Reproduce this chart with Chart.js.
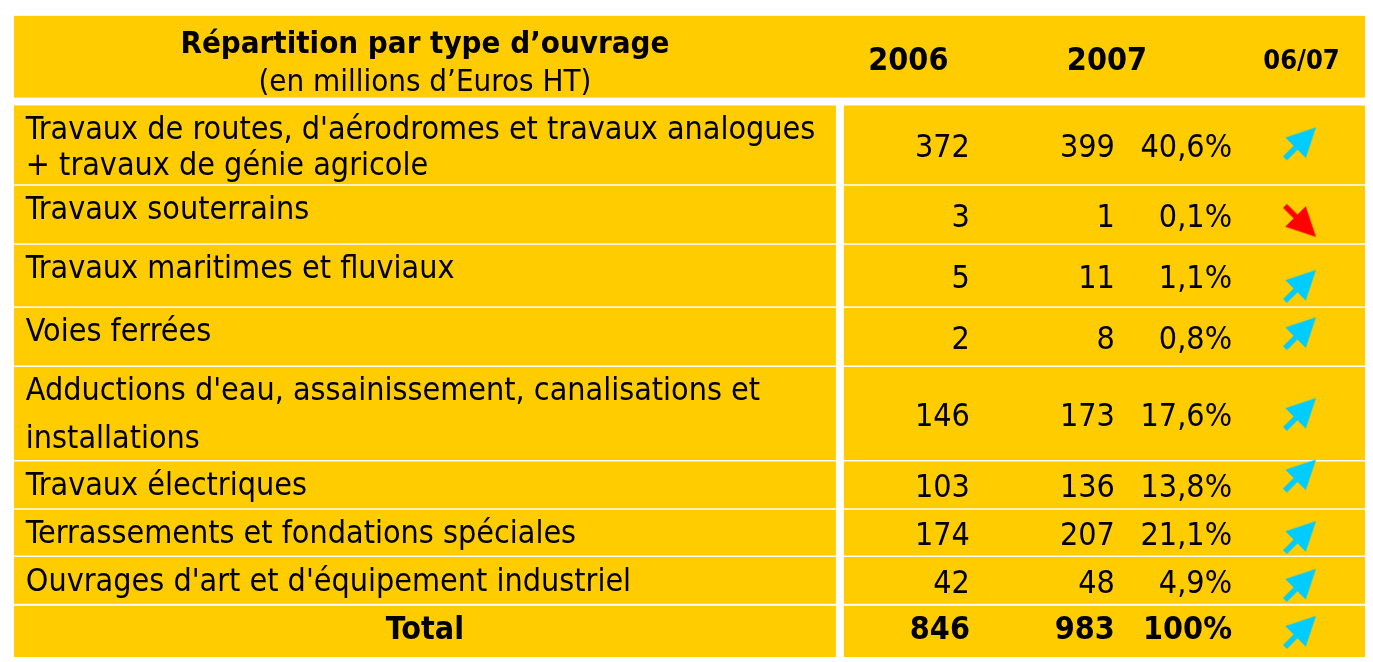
<!DOCTYPE html>
<html>
<head>
<meta charset="utf-8">
<script src="https://cdn.jsdelivr.net/npm/chart.js"></script>
<style>
  html, body { margin: 0; padding: 0; background: #fff; }
  canvas { display: block; }
</style>
</head>
<body>
<canvas id="ouvrages" width="1373" height="662"></canvas>
<script>
const title = 'Répartition par type d’ouvrage';
const subtitle = '(en millions d’Euros HT)';
const columnLabels = ['2006', '2007', '06/07'];
const categories = [
  "Travaux de routes, d'aérodromes et travaux analogues\n+ travaux de génie agricole",
  'Travaux souterrains',
  'Travaux maritimes et fluviaux',
  'Voies ferrées',
  "Adductions d'eau, assainissement, canalisations et\ninstallations",
  'Travaux électriques',
  'Terrassements et fondations spéciales',
  "Ouvrages d'art et d'équipement industriel",
];
const values2006 = [372, 3, 5, 2, 146, 103, 174, 42];
const values2007 = [399, 1, 11, 8, 173, 136, 207, 48];
const shares2007 = [40.6, 0.1, 1.1, 0.8, 17.6, 13.8, 21.1, 4.9];
const totalLabel = 'Total';
const total2006 = 846;
const total2007 = 983;
const totalShare = 100;

// layout (scale units = reference pixels)
const CELL = '#FFCC00';
const UP = '#00CCFF';
const DOWN = '#FF0000';
const FONT = '"DejaVu Sans Condensed", "DejaVu Sans", sans-serif';
const table = {
  left: 9, right: 1370, labelRight: 837, valueLeft: 845,
  headerTop: 11, headerBottom: 94,
  textLeft: 21, col2006: 972, col2007: 1118, colShare: 1236, colArrow: 1305,
};
const rowEdges = [
  [102, 182], [183.5, 242], [243.5, 306], [307.5, 366], [367.5, 462],
  [463.5, 511], [512.5, 559], [560.5, 608], [610, 662],
];
const lineSpacing = [37, 37, 37, 37, 48, 37, 37, 37];
const arrowNudge = [-2, 7, 10, -4, 0, -10, 4, 4, 0];

const fmt = (v) => (Number.isInteger(v) ? String(v) : v.toFixed(1).replace('.', ','));

// arrow drawn pointing right, rotated per point
const makeArrow = (color) => {
  const c = document.createElement('canvas');
  c.width = 50; c.height = 50;
  const g = c.getContext('2d');
  g.translate(25, 25);
  g.fillStyle = color;
  g.beginPath();
  g.moveTo(22, 0);
  g.lineTo(-7, -14.5);
  g.lineTo(-7, -2.7);
  g.lineTo(-22, -2.7);
  g.lineTo(-22, 2.7);
  g.lineTo(-7, 2.7);
  g.lineTo(-7, 14.5);
  g.closePath();
  g.fill();
  return c;
};
const arrowUp = makeArrow(UP);
const arrowDown = makeArrow(DOWN);

const allOld = [...values2006, total2006];
const allNew = [...values2007, total2007];
const rising = allNew.map((v, i) => v >= allOld[i]);
const rowCenter = (i) => (rowEdges[i][0] + rowEdges[i][1]) / 2;

const tablePlugin = {
  id: 'tableCells',
  beforeDatasetsDraw(chart) {
    const { ctx, scales: { x, y } } = chart;
    const rect = (x0, y0, x1, y1) => {
      const px = x.getPixelForValue(x0);
      const py = y.getPixelForValue(y0);
      ctx.fillRect(px, py, x.getPixelForValue(x1) - px, y.getPixelForValue(y1) - py);
    };
    const text = (str, xv, yv, align, font) => {
      ctx.font = font;
      ctx.textAlign = align;
      ctx.fillText(str, x.getPixelForValue(xv), y.getPixelForValue(yv));
    };

    ctx.save();
    ctx.fillStyle = CELL;
    rect(table.left, table.headerTop, table.right, table.headerBottom);
    rowEdges.forEach(([top, bottom]) => {
      rect(table.left, top, table.labelRight, bottom);
      rect(table.valueLeft, top, table.right, bottom);
    });

    ctx.fillStyle = '#000';
    ctx.textBaseline = 'alphabetic';
    const headMid = (table.left + table.labelRight) / 2;
    text(title, headMid, 48.5, 'center', `bold 31px ${FONT}`);
    text(subtitle, headMid, 87, 'center', `31px ${FONT}`);
    text(columnLabels[0], 910, 66.5, 'center', `bold 32px ${FONT}`);
    text(columnLabels[1], 1110, 66.5, 'center', `bold 32px ${FONT}`);
    text(columnLabels[2], 1306, 65, 'center', `bold 27px ${FONT}`);

    categories.forEach((label, i) => {
      const top = rowEdges[i][0];
      label.split('\n').forEach((line, k) => {
        text(line, table.textLeft, top + 34 + k * lineSpacing[i], 'left', `32px ${FONT}`);
      });
      const base = rowCenter(i) + 12.5;
      text(String(values2006[i]), table.col2006, base, 'right', `32px ${FONT}`);
      text(String(values2007[i]), table.col2007, base, 'right', `32px ${FONT}`);
      text(`${fmt(shares2007[i])}%`, table.colShare, base, 'right', `32px ${FONT}`);
    });

    const t = rowEdges.length - 1;
    const tBase = rowCenter(t) + 8;
    text(totalLabel, headMid, tBase, 'center', `bold 32px ${FONT}`);
    text(String(total2006), table.col2006, tBase, 'right', `bold 32px ${FONT}`);
    text(String(total2007), table.col2007, tBase, 'right', `bold 32px ${FONT}`);
    text(`${fmt(totalShare)}%`, table.colShare, tBase, 'right', `bold 32px ${FONT}`);
    ctx.restore();
  },
};

new Chart(document.getElementById('ouvrages'), {
  type: 'scatter',
  data: {
    datasets: [{
      label: '06/07',
      data: rowEdges.map((_, i) => ({ x: table.colArrow, y: rowCenter(i) + arrowNudge[i] })),
      pointStyle: (c) => (rising[c.dataIndex] ? arrowUp : arrowDown),
      rotation: (c) => (rising[c.dataIndex] ? -45 : 45),
      showLine: false,
    }],
  },
  options: {
    responsive: false,
    animation: false,
    layout: { padding: 0 },
    plugins: { legend: { display: false }, tooltip: { enabled: false } },
    scales: {
      x: { type: 'linear', min: 0, max: 1373, display: false },
      y: { type: 'linear', min: 0, max: 662, reverse: true, display: false },
    },
  },
  plugins: [tablePlugin],
});
</script>
</body>
</html>
